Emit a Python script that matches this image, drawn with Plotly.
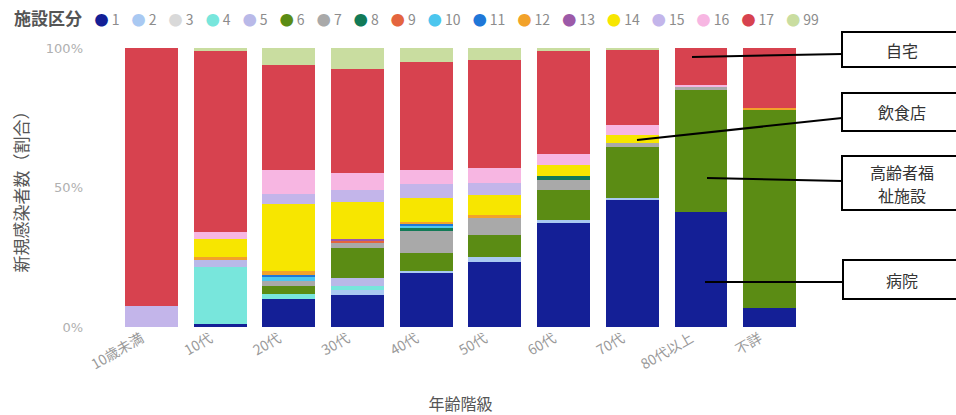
import plotly.graph_objects as go

# Age bands on the x axis
age_groups = ["10歳未満", "10代", "20代", "30代", "40代", "50代", "60代", "70代", "80代以上", "不詳"]

# Facility category codes and their colours
facility_codes = ["1", "2", "3", "4", "5", "6", "7", "8", "9", "10",
                  "11", "12", "13", "14", "15", "16", "17", "99"]
facility_colors = ["#141f96", "#a9c9f2", "#d9d9d9", "#78e6dc", "#b9b9e8", "#5b8c14",
                   "#a9a9a9", "#127a57", "#e4653e", "#4cc6ee", "#1f77d8", "#f2a22a",
                   "#9c5aa8", "#f7e600", "#c3b5ea", "#f7b6e2", "#d7424f", "#c9dda0"]

# Share of new cases (%) per facility category, one value per age band
share_01 = [0, 1.2, 9.8, 11.6, 19.4, 23.5, 37.3, 45.6, 41.1, 6.8]
share_02 = [0, 0, 0, 1.5, 0.6, 1.6, 1.2, 0.6, 0, 0]
share_03 = [0, 0, 0, 0, 0, 0, 0, 0, 0, 0]
share_04 = [0, 20.3, 1.8, 1.5, 0, 0, 0, 0, 0, 0]
share_05 = [0, 2.4, 0, 3.0, 0, 0, 0, 0, 0, 0]
share_06 = [0, 0, 3.0, 10.8, 6.6, 8.0, 10.8, 18.3, 44.0, 71.1]
share_07 = [0, 0, 1.8, 1.8, 7.8, 6.0, 3.6, 1.4, 0.8, 0]
share_08 = [0, 0, 0, 0, 1.2, 0, 1.2, 0, 0, 0]
share_09 = [0, 0, 0, 0.7, 0, 0, 0, 0, 0, 0]
share_10 = [0, 0, 1.5, 0, 0.8, 0, 0, 0, 0, 0]
share_11 = [0, 0, 0.8, 0, 0.6, 0, 0, 0, 0, 0]
share_12 = [0, 1.2, 1.2, 0, 0.8, 1.2, 0, 0, 0, 0.6]
share_13 = [0, 0, 0, 0.7, 0, 0, 0, 0, 0, 0]
share_14 = [0, 6.2, 23.9, 13.3, 8.5, 7.2, 4.2, 3.0, 0, 0]
share_15 = [7.5, 0, 3.6, 4.4, 5.0, 4.2, 0, 0, 0, 0]
share_16 = [0, 2.7, 8.4, 6.0, 5.1, 5.4, 3.6, 3.6, 1.0, 0]
share_17 = [92.5, 64.5, 37.6, 37.3, 38.7, 38.8, 37.0, 26.9, 13.1, 21.5]
share_99 = [0, 1.2, 6.0, 7.5, 5.1, 4.2, 1.2, 0.6, 0, 0]

shares = [share_01, share_02, share_03, share_04, share_05, share_06, share_07,
          share_08, share_09, share_10, share_11, share_12, share_13, share_14,
          share_15, share_16, share_17, share_99]

# Y tick positions and labels
y_tick_vals = [0, 50, 100]
y_tick_text = ["0%", "50%", "100%"]

FONT = "Noto Sans CJK JP"
W, H = 956, 415
ML, MR, MT, MB = 117, 152, 48, 88

fig = go.Figure()
for code, color, vals in zip(facility_codes, facility_colors, shares):
    fig.add_trace(go.Bar(x=age_groups, y=vals, name=code, marker_color=color,
                         marker_line_width=0, showlegend=False))


def px_x(px):
    return (px - ML) / (W - ML - MR)


def px_y(py):
    return (H - MB - py) / (H - MT - MB)


# Legend row drawn as one rich-text line
nb = "\u00a0"
legend_text = "<span style='font-size:17px;color:#555555'><b>施設区分</b></span>" + nb * 4
for code, color in zip(facility_codes, facility_colors):
    legend_text += (f"<span style='color:{color};font-size:14px'>●</span>{nb}"
                    f"<span style='color:#8c8c8c'>{code}</span>"
                    f"<span style='font-size:18px'>{nb * 3}</span>")

annotations = [
    dict(text=legend_text, xref="paper", yref="paper", x=px_x(12), y=px_y(17),
         xanchor="left", yanchor="middle", showarrow=False,
         font=dict(family=FONT, size=14, color="#8c8c8c")),
]

# Callout boxes on the right: (text lines, box top, box bottom, line start, line end)
callouts = [
    (["自宅"], 32, 67, (692, 57), (842, 54)),
    (["飲食店"], 93, 131, (637, 140), (842, 118)),
    (["高齢者福", "祉施設"], 156, 210, (707, 178), (842, 181)),
    (["病院"], 260, 299, (705, 282), (843, 282)),
]
shapes = []
for lines, top, bottom, p0, p1 in callouts:
    shapes.append(dict(type="rect", xref="paper", yref="paper",
                       x0=px_x(p1[0]), x1=px_x(W + 10), y0=px_y(bottom), y1=px_y(top),
                       line=dict(color="black", width=2), fillcolor="white", layer="above"))
    shapes.append(dict(type="line", xref="paper", yref="paper",
                       x0=px_x(p0[0]), y0=px_y(p0[1]), x1=px_x(p1[0]), y1=px_y(p1[1]),
                       line=dict(color="black", width=2), layer="above"))
    mid = (top + bottom) / 2
    step = 23
    first = mid - step * (len(lines) - 1) / 2
    for i, line_text in enumerate(lines):
        annotations.append(dict(text=line_text, xref="paper", yref="paper",
                                x=px_x(902), y=px_y(first + i * step),
                                xanchor="center", yanchor="middle", showarrow=False,
                                font=dict(family=FONT, size=16, color="#333333")))

fig.update_layout(
    width=W, height=H,
    margin=dict(l=ML, r=MR, t=MT, b=MB, autoexpand=False),
    barmode="stack", barnorm="percent", bargap=0.23,
    plot_bgcolor="white", paper_bgcolor="white",
    font=dict(family=FONT, color="#555555"),
    showlegend=False,
    shapes=shapes, annotations=annotations,
)
fig.update_xaxes(
    tickangle=-30, tickfont=dict(size=14, color="#9a9a9a"),
    ticklabelshift=-10, ticklabelstandoff=0,
    showgrid=False, zeroline=False, showline=False, automargin=False,
    title=dict(text="年齢階級", font=dict(size=16, color="#555555"), standoff=34),
)
fig.update_yaxes(
    range=[0, 100], tickmode="array", tickvals=y_tick_vals, ticktext=y_tick_text,
    tickfont=dict(size=13, color="#b0b0b0", family="DejaVu Sans"), ticklabelstandoff=33,
    showgrid=False, zeroline=False, showline=False, automargin=False,
    title=dict(text="新規感染者数（割合）", font=dict(size=17, color="#555555"), standoff=12),
)

fig.write_html("out.html")
